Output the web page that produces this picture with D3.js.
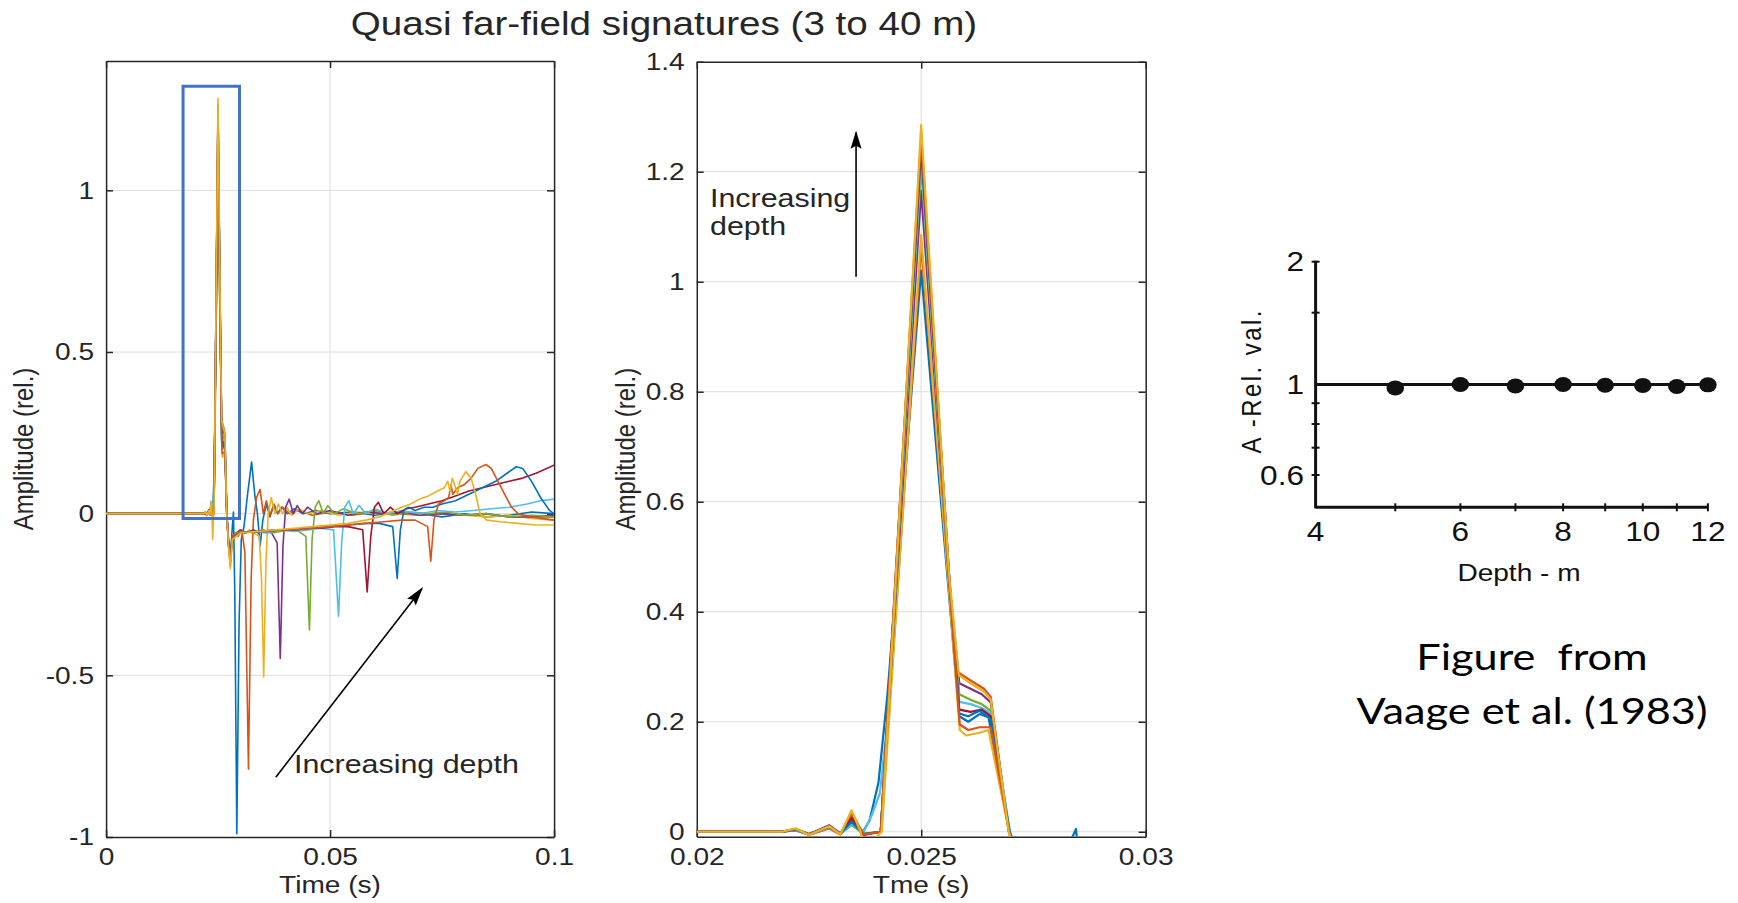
<!DOCTYPE html>
<html>
<head>
<meta charset="utf-8">
<script src="https://cdn.jsdelivr.net/npm/d3@7"></script>
<style>
  html, body { margin: 0; padding: 0; background: #fff; }
  svg { display: block; }
  .axis path, .axis line { vector-effect: non-scaling-stroke; stroke-width: 1.5px; }
  .grid { stroke: #dcdcdc; stroke-width: 1px; vector-effect: non-scaling-stroke; }
  .trace { fill: none; stroke-linejoin: round; vector-effect: non-scaling-stroke; }
  .mat { font-family: "Liberation Sans", Arial, Helvetica, sans-serif; fill: #262626; }
  .scan { font-family: "Liberation Sans Narrow", "Liberation Sans", Arial, sans-serif; fill: #111; }
</style>
</head>
<body>
<div id="chart"></div>
<script>

const W = 1738, H = 903;
// the slide picture is stretched horizontally, so draw in a squeezed viewBox
const SX = 1.17;
const px = v => v / SX;

// ---- signatures, [time ms, amplitude], one list per gun depth ----
const traceDepths = [3, 5, 7, 10, 15, 20, 25, 30, 35, 40];
const traceColors = ['#0072BD', '#D95319', '#EDB120', '#7E2F8E', '#77AC30',
                     '#4DBEEE', '#A2142F', '#0072BD', '#D95319', '#EDB120'];

const sig3m = [[0,0],[21.9,0],[22.2,0.003],[22.5,-0.005],[22.95,0.01],[23.2,-0.004],[23.45,0.016],[23.7,0],[23.85,0.02],[24.05,0.09],[24.25,0.25],[25,1.02],[25.6,0.45],[25.85,0.21],[26.05,0.2],[26.3,0.214],[26.5,0.208],[26.97,0],[27.4,-0.09],[27.8,-0.13],[28.2,-0.04],[28.45,0.005],[28.75,-0.25],[29.2,-0.99],[29.7,-0.34],[30.2,-0.08],[30.8,-0.04],[31.6,0.06],[32.5,0.16],[33.2,0.06],[33.8,0],[34.4,-0.1],[35,-0.02],[35.8,0.03],[36.6,-0.01],[37.4,0.025],[38.3,0],[39.2,0.02],[40.5,0],[42,0.015],[44,0],[47,0.01],[50,0],[55,0.005],[60,-0.005],[65,0.005],[70,0],[75,-0.01],[80,0],[85,-0.01],[90,-0.005],[95,0.005],[100,0]];
const sig5m = [[0,0],[21.9,0],[22.2,0.004],[22.5,-0.006],[22.95,0.006],[23.2,-0.005],[23.45,0.03],[23.72,-0.006],[24.1,0],[25,1.065],[25.6,0.47],[25.82,0.29],[26.1,0.275],[26.4,0.26],[26.55,0.245],[26.95,0],[27.35,-0.1],[27.75,-0.16],[28.2,-0.08],[28.8,-0.06],[29.5,-0.07],[30.3,-0.05],[31,-0.12],[31.8,-0.79],[32.4,-0.2],[32.9,-0.02],[33.6,0.05],[34.4,0.075],[35.1,0],[35.8,0.04],[36.6,-0.005],[37.5,0.03],[38.4,0],[39.4,0.02],[41,0],[43,0.012],[46,-0.005],[50,0.005],[55,-0.005],[60,0.005],[65,0],[70,-0.005],[75,0],[80,-0.005],[85,0],[90,-0.01],[95,-0.01],[100,-0.01]];
const sig7m = [[0,0],[21.9,0],[22.2,0.006],[22.5,-0.004],[22.95,0.008],[23.2,-0.004],[23.45,0.025],[23.72,-0.004],[24.12,0],[25,1.085],[25.62,0.44],[25.86,0.185],[26,0.175],[26.3,0.18],[26.5,0.185],[26.96,0],[27.35,-0.1],[27.75,-0.15],[28.2,-0.07],[29,-0.06],[30,-0.05],[31,-0.06],[32,-0.05],[33,-0.06],[34.2,-0.07],[34.7,-0.2],[35.2,-0.505],[35.7,-0.15],[36.2,0],[36.9,0.05],[37.7,0],[38.5,0.03],[39.4,0],[40.3,0.02],[41.5,-0.005],[43,0.015],[45,0],[48,0.01],[52,-0.005],[56,0.005],[60,0],[65,0.005],[70,-0.005],[75,0],[80,-0.005],[85,-0.01],[90,-0.005],[95,-0.015],[100,-0.02]];
const sig10m = [[0,0],[21.9,0],[22.2,0.003],[22.5,-0.005],[22.95,0.012],[23.2,-0.003],[23.45,0.022],[23.72,-0.005],[24.1,0],[25,1.165],[25.62,0.46],[25.85,0.27],[26.1,0.26],[26.35,0.25],[26.55,0.235],[26.96,0],[27.35,-0.09],[27.75,-0.14],[28.2,-0.07],[29,-0.06],[30,-0.05],[31,-0.06],[32,-0.055],[33,-0.05],[34,-0.06],[35,-0.05],[36,-0.055],[37,-0.06],[38.2,-0.09],[38.9,-0.448],[39.5,-0.1],[40.1,0.02],[40.9,0.045],[41.8,0],[42.7,0.025],[43.8,0],[45,0.02],[47,0],[50,0.01],[54,-0.005],[58,0.005],[62,0],[66,0.005],[70,-0.005],[75,0],[80,-0.005],[85,0],[90,-0.01],[95,-0.01],[100,-0.005]];
const sig15m = [[0,0],[21.9,0],[22.2,0.004],[22.5,-0.004],[22.95,0.007],[23.2,-0.004],[23.45,0.012],[23.72,-0.004],[24.1,0],[25,1.21],[25.62,0.46],[25.85,0.25],[26.1,0.24],[26.35,0.232],[26.55,0.22],[26.97,0],[27.35,-0.09],[27.75,-0.13],[28.2,-0.07],[29,-0.06],[31,-0.055],[33,-0.06],[35,-0.05],[37,-0.06],[39,-0.055],[41,-0.05],[43,-0.055],[44.6,-0.07],[45.4,-0.36],[46,-0.08],[46.7,0.02],[47.5,0.04],[48.5,0],[49.5,0.025],[51,0],[53,0.015],[56,0],[60,0.01],[64,-0.005],[68,0.005],[72,0],[76,0.005],[80,-0.005],[85,0],[90,-0.01],[95,-0.005],[100,-0.01]];
const sig20m = [[0,0],[21.9,0],[22.2,0.003],[22.5,-0.005],[22.95,0.008],[23.2,-0.004],[23.45,0.014],[23.72,0],[23.9,0.03],[24.08,0.07],[24.25,0.2],[25,1.225],[25.62,0.46],[25.85,0.236],[26.1,0.232],[26.35,0.225],[26.55,0.215],[26.98,0],[27.35,-0.09],[27.75,-0.13],[28.2,-0.07],[30,-0.06],[33,-0.055],[36,-0.06],[39,-0.05],[42,-0.055],[45,-0.05],[48,-0.045],[50.8,-0.05],[51.9,-0.317],[52.6,-0.09],[53.3,0.02],[54.2,0.04],[55.2,0],[56.5,0.025],[58,0],[60,0.015],[63,0],[66,0.01],[70,0],[74,0.01],[78,0.005],[82,0.01],[86,0.015],[90,0.02],[94,0.03],[97,0.04],[100,0.045]];
const sig25m = [[0,0],[21.9,0],[22.2,0.005],[22.5,-0.005],[22.95,0.009],[23.2,-0.004],[23.45,0.025],[23.72,-0.005],[24.1,0],[25,1.245],[25.62,0.47],[25.85,0.222],[26.1,0.218],[26.35,0.222],[26.55,0.21],[26.96,0],[27.35,-0.09],[27.75,-0.14],[28.2,-0.07],[30,-0.06],[33,-0.055],[36,-0.055],[39,-0.05],[42,-0.05],[45,-0.045],[48,-0.045],[51,-0.04],[54,-0.04],[57.3,-0.05],[58.3,-0.242],[59.1,-0.07],[59.9,0.02],[60.8,0.035],[62,0],[63.5,0.02],[65,0],[67,0.015],[69,0.02],[72,0.03],[75,0.04],[78,0.055],[81,0.07],[84,0.08],[87,0.09],[90,0.1],[93,0.11],[96,0.125],[100,0.15]];
const sig30m = [[0,0],[21.9,0],[22.2,0.004],[22.5,-0.004],[22.95,0.01],[23.2,-0.003],[23.45,0.018],[23.72,-0.004],[24.1,0],[25,1.255],[25.62,0.47],[25.85,0.215],[26.05,0.21],[26.3,0.22],[26.55,0.205],[26.97,0],[27.35,-0.09],[27.75,-0.13],[28.2,-0.07],[30,-0.06],[34,-0.055],[38,-0.05],[42,-0.05],[46,-0.045],[50,-0.04],[54,-0.035],[58,-0.03],[61,-0.03],[64,-0.04],[65,-0.2],[65.7,-0.05],[66.5,0.01],[67.5,0.02],[69,0.01],[71,0.02],[73,0.02],[75,0.03],[78,0.04],[81,0.06],[84,0.08],[87,0.1],[89.5,0.125],[91.6,0.145],[93,0.14],[95,0.1],[97,0.05],[99,0.01],[100,0]];
const sig35m = [[0,0],[21.9,0],[22.2,0.005],[22.5,-0.005],[22.95,0.01],[23.2,-0.004],[23.45,0.035],[23.72,-0.005],[24.1,0],[25,1.265],[25.62,0.46],[25.86,0.195],[26.05,0.185],[26.3,0.19],[26.55,0.19],[26.96,0],[27.35,-0.1],[27.75,-0.15],[28.2,-0.07],[30,-0.06],[34,-0.055],[38,-0.05],[42,-0.05],[46,-0.045],[50,-0.04],[54,-0.035],[58,-0.03],[62,-0.025],[66,-0.02],[69,-0.02],[71.8,-0.04],[72.5,-0.147],[73.2,-0.02],[74.2,0.03],[75.5,0.04],[76.5,0.05],[77,0.09],[77.4,0.06],[78.5,0.08],[80,0.09],[81.5,0.11],[83,0.14],[84.8,0.152],[86,0.14],[87.5,0.1],[89,0.06],[90.5,0.02],[92,0],[95,-0.01],[100,-0.02]];
const sig40m = [[0,0],[21.9,0],[22.2,0.006],[22.5,-0.006],[22.95,0.01],[23.2,-0.005],[23.45,0.039],[23.65,0],[23.82,-0.08],[24,-0.01],[24.12,0],[25,1.285],[25.62,0.47],[25.84,0.285],[26.1,0.27],[26.4,0.255],[26.55,0.24],[26.95,0],[27.35,-0.1],[27.75,-0.17],[28.2,-0.08],[30,-0.06],[34,-0.055],[38,-0.05],[42,-0.045],[46,-0.04],[50,-0.035],[54,-0.03],[58,-0.02],[61,-0.01],[63.5,0.005],[66,0.02],[68,0.03],[70,0.045],[72,0.055],[74,0.07],[75.5,0.08],[76.3,0.1],[76.8,0.07],[77.3,0.11],[77.8,0.09],[78.5,0.06],[79,0.1],[80.3,0.13],[81.5,0.11],[82.5,0.06],[83.5,0],[85,-0.02],[88,-0.025],[92,-0.03],[96,-0.035],[100,-0.035]];
const tracePoints = [sig3m, sig5m, sig7m, sig10m, sig15m, sig20m, sig25m, sig30m, sig35m, sig40m];

// axes ticks of the two MATLAB panels
const fullTicksX = [0, 0.05, 0.1];
const fullTicksY = [-1, -0.5, 0, 0.5, 1];
const zoomTicksX = [0.02, 0.025, 0.03];
const zoomTicksY = [0, 0.2, 0.4, 0.6, 0.8, 1, 1.2, 1.4];
// zoom window drawn on the left panel: [t0, t1] s, [a0, a1]
const boxTime = [0.0172, 0.0298];
const boxAmp = [-0.015, 1.322];

// ---- Vaage et al. (1983): relative amplitude vs depth ----
const vaageDepth = [5, 6, 7, 8, 9, 10, 11, 12];
const vaageAmp = [0.981, 1.0, 0.992, 1.0, 0.996, 0.995, 0.989, 0.998];
const vaageTicksX = [5, 6, 7, 8, 9, 10, 11, 12];
const vaageLabelsX = [4, 6, 8, 10, 12];
const vaageTicksY = [2, 1.5, 0.9, 0.8, 0.7, 0.6];
const vaageLabelsY = [2, 1, 0.6];

const traces = traceDepths.map((d, i) => ({ depth: d, color: traceColors[i], points: tracePoints[i] }));

const svg = d3.select('#chart').append('svg')
  .attr('width', W)
  .attr('height', H)
  .attr('viewBox', `0 0 ${W / SX} ${H}`)
  .attr('preserveAspectRatio', 'none');

svg.append('rect').attr('width', W / SX).attr('height', H).attr('fill', '#fff');

svg.append('text')
  .attr('class', 'mat')
  .attr('x', px(664)).attr('y', 35)
  .attr('text-anchor', 'middle')
  .style('font-size', '33px')
  .text('Quasi far-field signatures (3 to 40 m)');

function arrow(g, x0, y0, x1, y1, L, w) {
  // coordinates in screen px
  g.append('line')
    .attr('x1', px(x0)).attr('y1', y0).attr('x2', px(x1)).attr('y2', y1)
    .attr('stroke', '#000').attr('stroke-width', 1.6)
    .style('vector-effect', 'non-scaling-stroke');
  let dx = x1 - x0, dy = y1 - y0, len = Math.hypot(dx, dy);
  let ux = dx / len, uy = dy / len;
  let bx = x1 - ux * L, by = y1 - uy * L;
  let pts = [[x1 + ux * 2, y1 + uy * 2], [bx - uy * w, by + ux * w], [bx + ux * 3, by + uy * 3], [bx + uy * w, by - ux * w]];
  g.append('polygon')
    .attr('points', pts.map(p => px(p[0]) + ',' + p[1]).join(' '))
    .attr('fill', '#000');
}

function signalPanel(o) {
  const x = d3.scaleLinear().domain(o.xDomain).range([px(o.left), px(o.right)]);
  const y = d3.scaleLinear().domain(o.yDomain).range([o.bottom, o.top]);
  const g = svg.append('g');

  svg.append('clipPath').attr('id', 'clip-' + o.id)
    .append('rect')
    .attr('x', x.range()[0]).attr('y', o.top)
    .attr('width', x.range()[1] - x.range()[0]).attr('height', o.bottom - o.top);

  // grid
  g.append('g').selectAll('line')
    .data(o.xTicks.filter(v => v > o.xDomain[0] && v < o.xDomain[1]))
    .join('line').attr('class', 'grid')
    .attr('x1', d => x(d)).attr('x2', d => x(d)).attr('y1', o.top).attr('y2', o.bottom);
  g.append('g').selectAll('line')
    .data(o.yTicks.filter(v => y(v) > o.top + 2 && y(v) < o.bottom - 2))
    .join('line').attr('class', 'grid')
    .attr('y1', d => y(d)).attr('y2', d => y(d)).attr('x1', x.range()[0]).attr('x2', x.range()[1]);

  const tk = 7;
  const axes = [
    [d3.axisBottom(x).tickValues(o.xTicks).tickFormat(String).tickSize(-tk).tickPadding(11), `translate(0,${o.bottom})`],
    [d3.axisTop(x).tickValues(o.xTicks).tickFormat('').tickSize(-tk), `translate(0,${o.top})`],
    [d3.axisLeft(y).tickValues(o.yTicks).tickFormat(String).tickSize(-tk / SX).tickPadding(12 / SX), `translate(${px(o.left)},0)`],
    [d3.axisRight(y).tickValues(o.yTicks).tickFormat('').tickSize(-tk / SX), `translate(${px(o.right)},0)`]
  ];
  axes.forEach(([ax, tr]) => {
    g.append('g').attr('class', 'axis mat')
      .attr('transform', tr)
      .attr('color', '#262626')
      .call(ax.tickSizeOuter(0))
      .attr('font-family', null).attr('font-size', null)
      .selectAll('text').style('font-size', '24px').attr('fill', '#262626');
  });

  const line = d3.line().x(d => x(d[0] / 1000)).y(d => y(d[1]));
  g.append('g').attr('clip-path', `url(#clip-${o.id})`)
    .selectAll('path').data(traces).join('path')
    .attr('class', 'trace')
    .attr('stroke', d => d.color)
    .attr('stroke-width', o.lineWidth)
    .attr('d', d => line(d.points));

  g.append('text').attr('class', 'mat')
    .attr('x', x((o.xDomain[0] + o.xDomain[1]) / 2)).attr('y', 893)
    .attr('text-anchor', 'middle').style('font-size', '24px')
    .text(o.xLabel);
  g.append('text').attr('class', 'mat')
    .attr('transform', `translate(${px(o.yLabelX)},${(o.top + o.bottom) / 2}) rotate(-90)`)
    .attr('dy', '0.35em')
    .attr('text-anchor', 'middle').style('font-size', '24px')
    .text('Amplitude (rel.)');

  return { g, x, y };
}

// left: whole signatures
const full = signalPanel({
  id: 'full', left: 106, right: 554, top: 61, bottom: 837,
  xDomain: [0, 0.1], yDomain: [-1, 1.4],
  xTicks: fullTicksX, yTicks: fullTicksY,
  xLabel: 'Time (s)', yLabelX: 23, lineWidth: 1.6
});

full.g.append('rect')
  .attr('x', full.x(boxTime[0])).attr('y', full.y(boxAmp[1]))
  .attr('width', full.x(boxTime[1]) - full.x(boxTime[0]))
  .attr('height', full.y(boxAmp[0]) - full.y(boxAmp[1]))
  .attr('fill', 'none').attr('stroke', '#4472C4').attr('stroke-width', 3)
  .style('vector-effect', 'non-scaling-stroke');

arrow(full.g, full.x(0.0379) * SX, full.y(-0.815), full.x(0.0705) * SX, full.y(-0.232), 17, 5.5);
full.g.append('text').attr('class', 'mat')
  .attr('x', px(294)).attr('y', 773)
  .style('font-size', '26px')
  .text('Increasing depth');

// middle: zoom on the primary pulse
const zoom = signalPanel({
  id: 'zoom', left: 696.7, right: 1145.6, top: 61.7, bottom: 836.7,
  xDomain: [0.02, 0.03], yDomain: [-0.009, 1.4],
  xTicks: zoomTicksX, yTicks: zoomTicksY,
  xLabel: 'Tme (s)', yLabelX: 625, lineWidth: 2.2
});

arrow(zoom.g, zoom.x(0.02355) * SX, zoom.y(1.009), zoom.x(0.02355) * SX, zoom.y(1.271), 16, 5.5);
zoom.g.append('text').attr('class', 'mat')
  .attr('x', px(710)).attr('y', 207)
  .style('font-size', '26px')
  .text('Increasing');
zoom.g.append('text').attr('class', 'mat')
  .attr('x', px(710)).attr('y', 235)
  .style('font-size', '26px')
  .text('depth');

// right: scanned figure of Vaage et al.
const xV = d3.scaleLog().domain([4, 12]).range([px(1315.6), px(1707.9)]);
const yV = d3.scaleLog().domain([0.5, 2]).range([507.3, 261.7]);
const gv = svg.append('g');
const ink = '#111';

gv.append('line')
  .attr('x1', xV(4)).attr('x2', xV(12)).attr('y1', yV(0.5)).attr('y2', yV(0.5))
  .attr('stroke', ink).attr('stroke-width', 3).style('vector-effect', 'non-scaling-stroke');
gv.append('line')
  .attr('x1', xV(4)).attr('x2', xV(4)).attr('y1', yV(0.5) + 1).attr('y2', yV(2) - 1)
  .attr('stroke', ink).attr('stroke-width', 3).style('vector-effect', 'non-scaling-stroke');
gv.append('g').selectAll('line').data(vaageTicksX).join('line')
  .attr('x1', d => xV(d)).attr('x2', d => xV(d))
  .attr('y1', yV(0.5) - 4).attr('y2', yV(0.5) + 4)
  .attr('stroke', ink).attr('stroke-width', 2).style('vector-effect', 'non-scaling-stroke');
gv.append('g').selectAll('line').data(vaageTicksY).join('line')
  .attr('x1', xV(4) - px(4)).attr('x2', xV(4) + px(4))
  .attr('y1', d => yV(d)).attr('y2', d => yV(d))
  .attr('stroke', ink).attr('stroke-width', 2).style('vector-effect', 'non-scaling-stroke');

gv.append('line')
  .attr('x1', xV(4)).attr('x2', xV(12)).attr('y1', yV(1)).attr('y2', yV(1))
  .attr('stroke', ink).attr('stroke-width', 3).style('vector-effect', 'non-scaling-stroke');
gv.append('g').selectAll('circle').data(vaageDepth).join('circle')
  .attr('cx', d => xV(d))
  .attr('cy', (d, i) => yV(vaageAmp[i]))
  .attr('r', 7.5)
  .attr('fill', ink);

gv.append('g').selectAll('text').data(vaageLabelsX).join('text')
  .attr('class', 'scan')
  .attr('x', d => xV(d)).attr('y', 541)
  .attr('text-anchor', 'middle').style('font-size', '27px')
  .text(d => d);
gv.append('g').selectAll('text').data(vaageLabelsY).join('text')
  .attr('class', 'scan')
  .attr('x', px(1304)).attr('y', d => yV(d))
  .attr('dy', '0.36em')
  .attr('text-anchor', 'end').style('font-size', '27px')
  .text(d => d);
gv.append('text').attr('class', 'mat')
  .attr('x', px(1519)).attr('y', 581)
  .attr('text-anchor', 'middle').style('font-size', '24px').style('fill', ink)
  .text('Depth - m');
gv.append('text').attr('class', 'mat')
  .attr('transform', `translate(${px(1251)},382) rotate(-90)`)
  .attr('dy', '0.35em')
  .attr('text-anchor', 'middle').style('font-size', '24px').style('fill', ink)
  .attr('textLength', 143).attr('lengthAdjust', 'spacing')
  .text('A -Rel. val.');

const caption = ['Figure  from', 'Vaage et al. (1983)'];
svg.append('g').selectAll('text').data(caption).join('text')
  .attr('x', px(1532))
  .attr('y', (d, i) => 670 + i * 54)
  .attr('text-anchor', 'middle')
  .style('font-family', 'Lato, "Open Sans", sans-serif')
  .style('font-size', '37px')
  .style('white-space', 'pre')
  .attr('fill', '#000')
  .text(d => d);

</script>
</body>
</html>
